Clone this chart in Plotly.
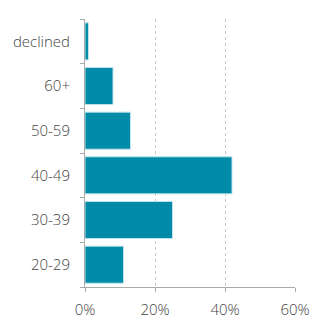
import plotly.graph_objects as go

categories = ["20-29", "30-39", "40-49", "50-59", "60+", "declined"]
values = [11, 25, 42, 13, 8, 1]
x_ticks = [0, 20, 40, 60]
x_tick_labels = ["0%", "20%", "40%", "60%"]

fig = go.Figure(go.Bar(
    x=values, y=categories, orientation="h",
    marker=dict(color="#008ca8", line=dict(color="#bfe3ea", width=1)),
))
fig.update_layout(
    width=325, height=331,
    margin=dict(l=85, r=30, t=19, b=41),
    paper_bgcolor="white", plot_bgcolor="white",
    bargap=0.17, showlegend=False,
    font=dict(family="Open Sans", size=15, color="#444444", weight=300),
)
fig.update_xaxes(
    range=[0, 60], tickvals=x_ticks, ticktext=x_tick_labels,
    showgrid=True, gridcolor="#c8c8c8", griddash="dot", gridwidth=1,
    showline=True, linecolor="#aaaaaa", linewidth=1,
    ticks="outside", ticklen=4, tickcolor="#aaaaaa",
    zeroline=False, ticklabelstandoff=5,
)
fig.update_yaxes(
    categoryorder="array", categoryarray=categories,
    showline=True, linecolor="#aaaaaa", linewidth=1,
    ticks="outside", ticklen=4, tickcolor="#aaaaaa", tickson="boundaries",
    showgrid=False, ticklabelstandoff=11,
)
fig.write_html("out.html")
